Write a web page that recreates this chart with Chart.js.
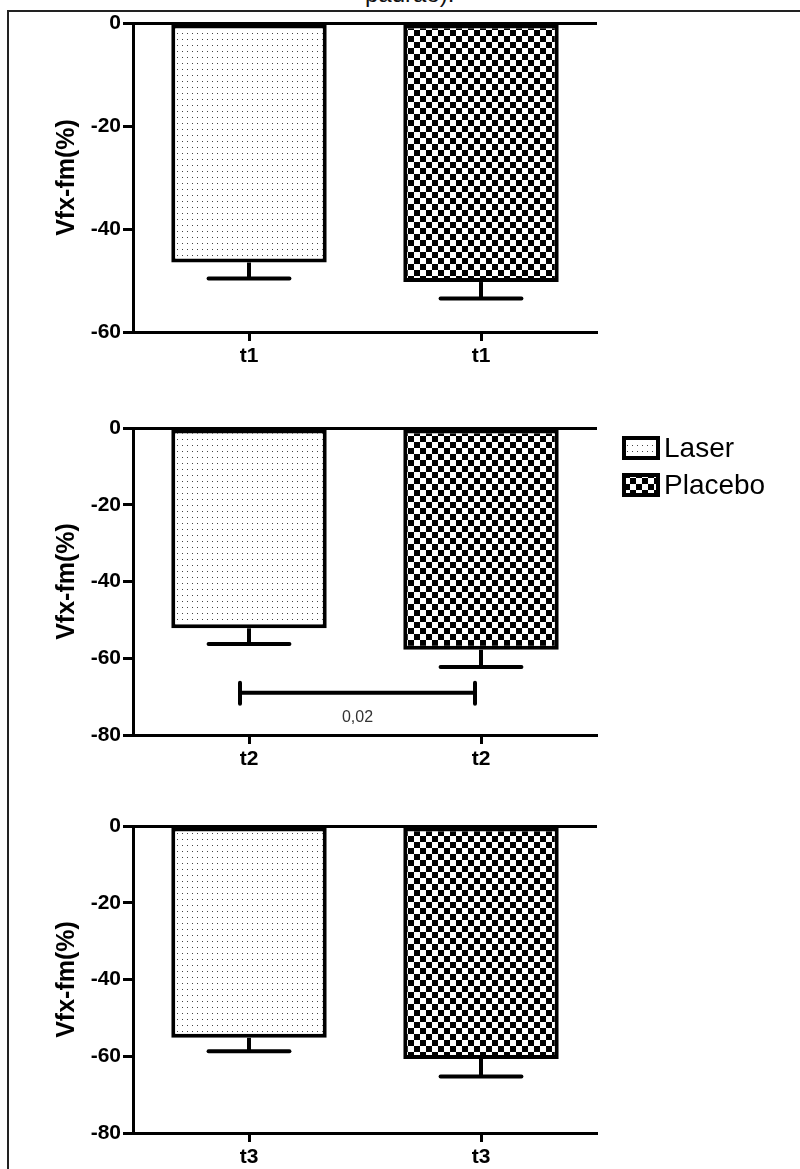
<!DOCTYPE html>
<html>
<head>
<meta charset="utf-8">
<script src="https://cdn.jsdelivr.net/npm/chart.js@4.4.0/dist/chart.umd.min.js"></script>
<style>
  body {
    margin: 0;
    width: 800px;
    height: 1169px;
    overflow: hidden;
    background: #fff;
    position: relative;
    font-family: Arial, 'Liberation Sans', sans-serif;
  }
  .frame {
    position: absolute;
    left: 7px;
    top: 10px;
    width: 820px;
    height: 1200px;
    border-left: 2px solid #222;
    border-top: 2px solid #222;
  }
  .caption {
    position: absolute;
    left: 365px;
    top: -18px;
    font-size: 24px;
    line-height: 24px;
    color: #111;
  }
  canvas { position: absolute; left: 0; }
</style>
</head>
<body>
<div class="frame"></div>
<div class="caption">padrão).</div>
<canvas id="c1" width="800" height="372" style="top:0px"></canvas>
<canvas id="c2" width="800" height="375" style="top:400px"></canvas>
<canvas id="c3" width="800" height="373" style="top:800px"></canvas>
<script>
// mean change (%) and error per time point
const timeLabels = ['t1', 't2', 't3'];
const groups = ['Laser', 'Placebo'];
const laserMean = [-46.5, -52.2, -55.2];
const laserErr = [3.1, 4.1, 3.5];
const placeboMean = [-50.3, -57.8, -60.7];
const placeboErr = [3.2, 4.5, 4.6];
const yMins = [-60, -80, -80];
const yStep = 20;
// laser vs placebo at t2
const sigLevel = -69;
const sigText = '0,02';

Chart.defaults.font.family = "Arial, 'Liberation Sans', sans-serif";
Chart.defaults.color = '#000';

function dotsPattern() {
  const c = document.createElement('canvas');
  c.width = 5;
  c.height = 6;
  const g = c.getContext('2d');
  g.fillStyle = '#fff';
  g.fillRect(0, 0, 5, 6);
  g.fillStyle = '#444';
  g.fillRect(2, 3, 1, 1);
  return g.createPattern(c, 'repeat');
}

function checkerPattern() {
  const c = document.createElement('canvas');
  c.width = 12;
  c.height = 12;
  const g = c.getContext('2d');
  g.fillStyle = '#fff';
  g.fillRect(0, 0, 12, 12);
  g.fillStyle = '#000';
  g.fillRect(0, 0, 6, 6);
  g.fillRect(6, 6, 6, 6);
  return g.createPattern(c, 'repeat');
}

const fills = [dotsPattern(), checkerPattern()];

const errorBars = {
  id: 'errorBars',
  afterDatasetsDraw(chart) {
    const { ctx } = chart;
    const y = chart.scales.y;
    ctx.save();
    ctx.strokeStyle = '#000';
    ctx.lineWidth = 4;
    chart.data.datasets.forEach((ds, i) => {
      chart.getDatasetMeta(i).data.forEach((bar, j) => {
        const v = ds.data[j];
        const e = ds.errors[j];
        if (v == null || e == null) return;
        const yEnd = y.getPixelForValue(v - e);
        const half = bar.width * 0.26;
        ctx.lineCap = 'butt';
        ctx.beginPath();
        ctx.moveTo(bar.x, bar.y);
        ctx.lineTo(bar.x, yEnd);
        ctx.stroke();
        ctx.lineCap = 'round';
        ctx.beginPath();
        ctx.moveTo(bar.x - half, yEnd);
        ctx.lineTo(bar.x + half, yEnd);
        ctx.stroke();
      });
    });
    ctx.restore();
  }
};

const sigBracket = {
  id: 'sigBracket',
  afterDraw(chart, args, opts) {
    if (opts.value == null) return;
    const { ctx } = chart;
    const x = chart.scales.x;
    const yy = chart.scales.y.getPixelForValue(opts.value);
    const x0 = x.getPixelForValue(0) - 9;
    const x1 = x.getPixelForValue(1) - 6;
    ctx.save();
    ctx.strokeStyle = '#000';
    ctx.lineWidth = 4;
    ctx.lineCap = 'round';
    ctx.beginPath();
    ctx.moveTo(x0, yy);
    ctx.lineTo(x1, yy);
    ctx.moveTo(x0, yy - 10);
    ctx.lineTo(x0, yy + 11);
    ctx.moveTo(x1, yy - 10);
    ctx.lineTo(x1, yy + 11);
    ctx.stroke();
    ctx.fillStyle = '#333';
    ctx.font = "16px Arial, 'Liberation Sans', sans-serif";
    ctx.textAlign = 'center';
    ctx.textBaseline = 'middle';
    ctx.fillText(opts.text, (x0 + x1) / 2, yy + 25);
    ctx.restore();
  }
};

const sideLegend = {
  id: 'sideLegend',
  afterDraw(chart, args, opts) {
    if (!opts.show) return;
    const { ctx, chartArea } = chart;
    const left = chartArea.right + 27;
    ctx.save();
    chart.data.datasets.forEach((ds, i) => {
      const cy = chartArea.top + 20 + i * 37;
      ctx.fillStyle = ds.backgroundColor;
      ctx.fillRect(left, cy - 10, 34, 20);
      ctx.strokeStyle = '#000';
      ctx.lineWidth = 4;
      ctx.strokeRect(left, cy - 10, 34, 20);
      ctx.fillStyle = '#000';
      ctx.font = "28px Arial, 'Liberation Sans', sans-serif";
      ctx.textBaseline = 'middle';
      ctx.fillText(ds.label, left + 40, cy + 1);
    });
    ctx.restore();
  }
};

// canvas padding so the three plot areas line up
const panelPad = [23, 28, 26];

function makePanel(id, k) {
  const t = timeLabels[k];
  const sig = k === 1 ? { value: sigLevel, text: sigText } : {};
  return new Chart(document.getElementById(id), {
    type: 'bar',
    data: {
      labels: [t, t],
      datasets: [
        {
          label: groups[0],
          data: [laserMean[k], null],
          errors: [laserErr[k], null],
          backgroundColor: fills[0],
        },
        {
          label: groups[1],
          data: [null, placeboMean[k]],
          errors: [null, placeboErr[k]],
          backgroundColor: fills[1],
        },
      ],
    },
    options: {
      responsive: false,
      animation: false,
      devicePixelRatio: 1,
      grouped: false,
      categoryPercentage: 1,
      barPercentage: 0.67,
      borderColor: '#000',
      borderWidth: 4,
      borderSkipped: false,
      layout: {
        padding: { left: 40, top: panelPad[k], right: 203, bottom: 0 },
      },
      scales: {
        x: {
          grid: {
            drawOnChartArea: false,
            offset: false,
            tickColor: '#000',
            tickWidth: 3,
            tickLength: 9,
          },
          border: { color: '#000', width: 3 },
          ticks: {
            color: '#000',
            font: { size: 21, weight: 'bold' },
            padding: 3,
          },
          afterFit: s => { s.height = 40; },
        },
        y: {
          min: yMins[k],
          max: 0,
          ticks: {
            stepSize: yStep,
            color: '#000',
            font: { size: 21, weight: 'bold' },
            padding: 2,
          },
          grid: {
            color: c => (c.tick && c.tick.value === 0 ? '#000' : 'rgba(0,0,0,0)'),
            lineWidth: 3,
            tickColor: '#000',
            tickWidth: 3,
            tickLength: 10,
          },
          border: { color: '#000', width: 3 },
          title: {
            display: true,
            text: 'Vfx-fm(%)',
            color: '#000',
            font: { size: 25, weight: 'bold' },
            padding: { top: 12, bottom: 0 },
          },
          afterFit: s => { s.width = 93; },
        },
      },
      plugins: {
        legend: { display: false },
        tooltip: { enabled: false },
        sigBracket: sig,
        sideLegend: { show: k === 1 },
      },
    },
    plugins: [errorBars, sigBracket, sideLegend],
  });
}

makePanel('c1', 0);
makePanel('c2', 1);
makePanel('c3', 2);
</script>
</body>
</html>
